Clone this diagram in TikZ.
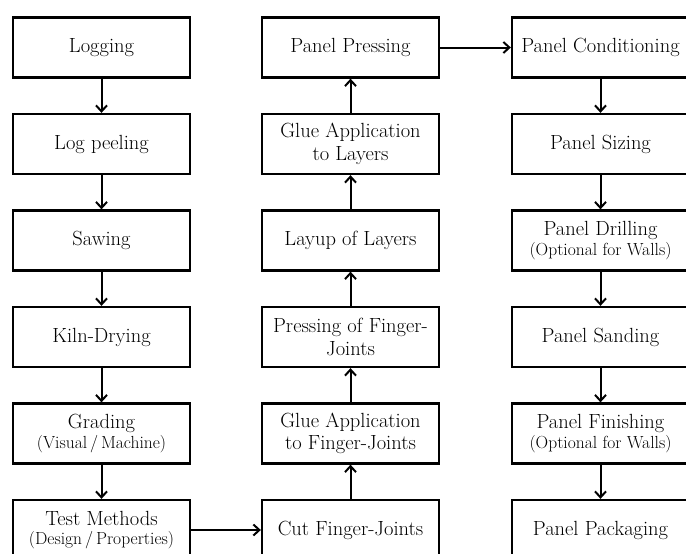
\documentclass[tikz,border=0pt]{standalone}
\usetikzlibrary{arrows.meta}
\begin{document}
\begin{tikzpicture}[x=1pt,y=-1pt,
  stepbox/.style={draw=black, line width=2.3pt, fill=white, minimum width=177pt, minimum height=60pt, inner sep=0pt, align=center, font=\fontsize{20.5}{22.5}\selectfont},
  flow/.style={line width=2pt, -{Straight Barb[length=6pt,width=11pt,line width=2pt]}}]
\clip (0,0) rectangle (686,554);
\fill[white] (0,0) rectangle (686,554);
\newcommand{\subt}[1]{{\fontsize{17.5}{20}\selectfont #1}}
% column 1
\node[stepbox] (log)   at (101.5,47.5)  {Logging};
\node[stepbox] (peel)  at (101.5,144)   {Log peeling};
\node[stepbox] (saw)   at (101.5,240.5) {Sawing};
\node[stepbox] (kiln)  at (101.5,337)   {Kiln-Drying};
\node[stepbox] (grade) at (101.5,433.5) {Grading\\[-3pt]\subt{(Visual\,/\,Machine)}};
\node[stepbox] (test)  at (101.5,530)   {Test Methods\\[-3pt]\subt{(Design\,/\,Properties)}};
% column 2
\node[stepbox] (cut)    at (350.5,530)   {Cut Finger-Joints};
\node[stepbox] (gluefj) at (350.5,433.5) {Glue Application\\to Finger-Joints};
\node[stepbox] (press)  at (350.5,337)   {Pressing of Finger-\\Joints};
\node[stepbox] (layup)  at (350.5,240.5) {Layup of Layers};
\node[stepbox] (gluel)  at (350.5,144)   {Glue Application\\to Layers};
\node[stepbox] (ppress) at (350.5,47.5)  {Panel Pressing};
% column 3
\node[stepbox] (cond)  at (600.5,47.5)  {Panel Conditioning};
\node[stepbox] (size)  at (600.5,144)   {Panel Sizing};
\node[stepbox] (drill) at (600.5,240.5) {Panel Drilling\\[-3pt]\subt{(Optional for Walls)}};
\node[stepbox] (sand)  at (600.5,337)   {Panel Sanding};
\node[stepbox] (fin)   at (600.5,433.5) {Panel Finishing\\[-3pt]\subt{(Optional for Walls)}};
\node[stepbox] (pack)  at (600.5,530)   {Panel Packaging};
% arrows
\draw[flow] (log) -- (peel);
\draw[flow] (peel) -- (saw);
\draw[flow] (saw) -- (kiln);
\draw[flow] (kiln) -- (grade);
\draw[flow] (grade) -- (test);
\draw[flow] (test) -- (cut);
\draw[flow] (cut) -- (gluefj);
\draw[flow] (gluefj) -- (press);
\draw[flow] (press) -- (layup);
\draw[flow] (layup) -- (gluel);
\draw[flow] (gluel) -- (ppress);
\draw[flow] (ppress) -- (cond);
\draw[flow] (cond) -- (size);
\draw[flow] (size) -- (drill);
\draw[flow] (drill) -- (sand);
\draw[flow] (sand) -- (fin);
\draw[flow] (fin) -- (pack);
\end{tikzpicture}
\end{document}
